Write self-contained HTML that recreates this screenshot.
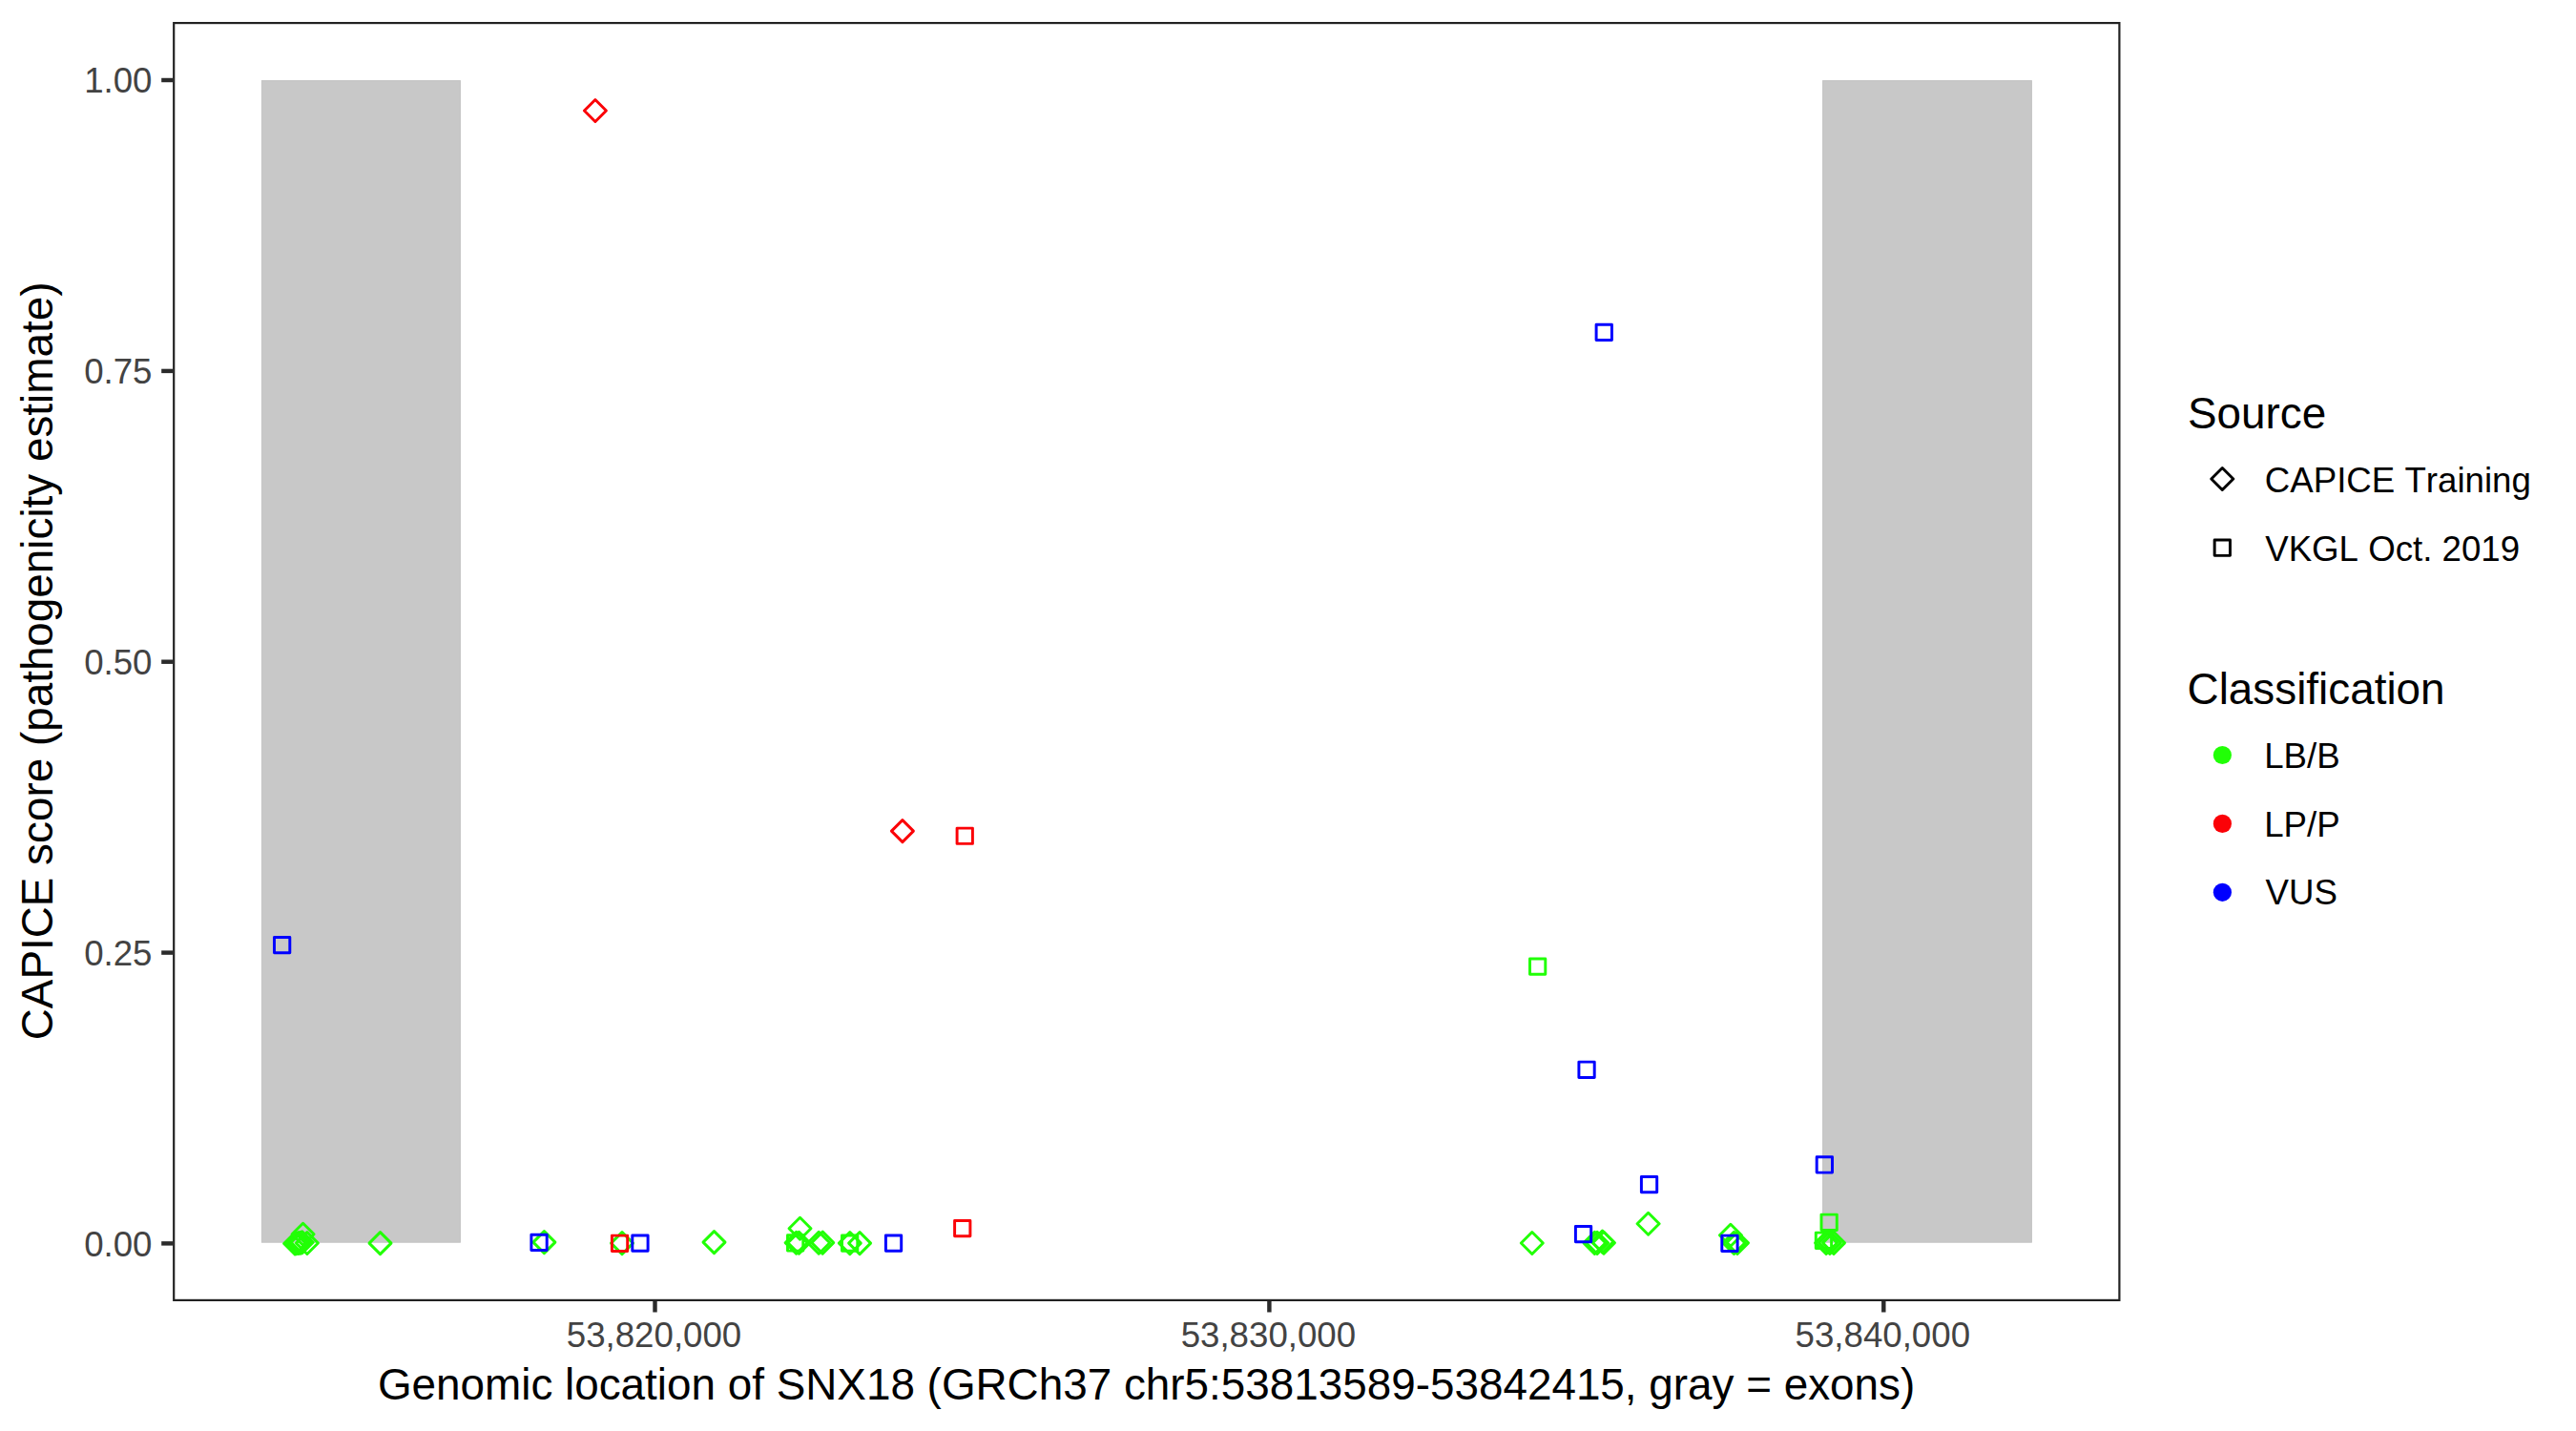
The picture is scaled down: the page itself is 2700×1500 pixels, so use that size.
<!DOCTYPE html>
<html><head><meta charset="utf-8"><title>SNX18 CAPICE scores</title>
<style>
html,body{margin:0;padding:0;background:#fff;}
body{width:2700px;height:1500px;overflow:hidden;}
svg{display:block;font-kerning:none;font-family:"Liberation Sans",Arial,Helvetica,sans-serif;}
.ax{font-size:36.67px;fill:#434343;}
.tt{font-size:45.83px;fill:#000;}
.lg{font-size:36.67px;fill:#000;}
.pt{fill:none;stroke-width:2.95;stroke-linejoin:round;}
.tk{stroke:#2b2b2b;stroke-width:4.44;}
</style></head><body>
<svg width="2700" height="1500" viewBox="0 0 2700 1500">
<rect x="0" y="0" width="2700" height="1500" fill="#fff"/>
<rect x="274.4" y="84.6" width="208.0" height="1217.6" fill="#c8c8c8" stroke="#c4c4c4" stroke-width="1"/>
<rect x="1910.6" y="84.6" width="218.8" height="1217.6" fill="#c8c8c8" stroke="#c4c4c4" stroke-width="1"/>
<g class="pt">
<path d="M297.6 1303.5L309.1 1292.0L320.6 1303.5L309.1 1315.0Z" stroke="#21ff06"/>
<path d="M299.1 1303.3L310.6 1291.8L322.1 1303.3L310.6 1314.8Z" stroke="#21ff06"/>
<path d="M301.4 1303.0L312.9 1291.5L324.4 1303.0L312.9 1314.5Z" stroke="#21ff06"/>
<path d="M303.5 1302.7L315.0 1291.2L326.5 1302.7L315.0 1314.2Z" stroke="#21ff06"/>
<path d="M305.2 1302.3L316.7 1290.8L328.2 1302.3L316.7 1313.8Z" stroke="#21ff06"/>
<path d="M310.4 1303.0L321.9 1291.5L333.4 1303.0L321.9 1314.5Z" stroke="#21ff06"/>
<path d="M306.1 1293.8L317.6 1282.3L329.1 1293.8L317.6 1305.3Z" stroke="#21ff06"/>
<path d="M387.0 1303.1L398.5 1291.6L410.0 1303.1L398.5 1314.6Z" stroke="#21ff06"/>
<path d="M558.9 1302.1L570.4 1290.6L581.9 1302.1L570.4 1313.6Z" stroke="#21ff06"/>
<path d="M640.5 1303.1L652.0 1291.6L663.5 1303.1L652.0 1314.6Z" stroke="#21ff06"/>
<path d="M737.0 1302.1L748.5 1290.6L760.0 1302.1L748.5 1313.6Z" stroke="#21ff06"/>
<path d="M827.0 1287.8L838.5 1276.3L850.0 1287.8L838.5 1299.3Z" stroke="#21ff06"/>
<path d="M823.1 1302.7L834.6 1291.2L846.1 1302.7L834.6 1314.2Z" stroke="#21ff06"/>
<path d="M825.9 1302.7L837.4 1291.2L848.9 1302.7L837.4 1314.2Z" stroke="#21ff06"/>
<path d="M846.7 1302.7L858.2 1291.2L869.7 1302.7L858.2 1314.2Z" stroke="#21ff06"/>
<path d="M850.7 1302.6L862.2 1291.1L873.7 1302.6L862.2 1314.1Z" stroke="#21ff06"/>
<path d="M879.3 1303.1L890.8 1291.6L902.3 1303.1L890.8 1314.6Z" stroke="#21ff06"/>
<path d="M889.6 1303.1L901.1 1291.6L912.6 1303.1L901.1 1314.6Z" stroke="#21ff06"/>
<path d="M612.4 116.0L623.9 104.5L635.4 116.0L623.9 127.5Z" stroke="#fb0207"/>
<path d="M934.4 871.1L945.9 859.6L957.4 871.1L945.9 882.6Z" stroke="#fb0207"/>
<path d="M1594.3 1303.0L1605.8 1291.5L1617.3 1303.0L1605.8 1314.5Z" stroke="#21ff06"/>
<path d="M1659.9 1302.9L1671.4 1291.4L1682.9 1302.9L1671.4 1314.4Z" stroke="#21ff06"/>
<path d="M1662.6 1302.9L1674.1 1291.4L1685.6 1302.9L1674.1 1314.4Z" stroke="#21ff06"/>
<path d="M1668.0 1301.5L1679.5 1290.0L1691.0 1301.5L1679.5 1313.0Z" stroke="#21ff06"/>
<path d="M1669.5 1302.8L1681.0 1291.3L1692.5 1302.8L1681.0 1314.3Z" stroke="#21ff06"/>
<path d="M1716.1 1282.7L1727.6 1271.2L1739.1 1282.7L1727.6 1294.2Z" stroke="#21ff06"/>
<path d="M1802.4 1294.7L1813.9 1283.2L1825.4 1294.7L1813.9 1306.2Z" stroke="#21ff06"/>
<path d="M1806.0 1302.9L1817.5 1291.4L1829.0 1302.9L1817.5 1314.4Z" stroke="#21ff06"/>
<path d="M1809.5 1302.9L1821.0 1291.4L1832.5 1302.9L1821.0 1314.4Z" stroke="#21ff06"/>
<path d="M1902.6 1302.9L1914.1 1291.4L1925.6 1302.9L1914.1 1314.4Z" stroke="#21ff06"/>
<path d="M1906.4 1302.9L1917.9 1291.4L1929.4 1302.9L1917.9 1314.4Z" stroke="#21ff06"/>
<path d="M1910.5 1302.9L1922.0 1291.4L1933.5 1302.9L1922.0 1314.4Z" stroke="#21ff06"/>
<rect x="287.5" y="982.5" width="16.3" height="16.3" stroke="#0000ff"/>
<rect x="556.9" y="1294.2" width="16.3" height="16.3" stroke="#0000ff"/>
<rect x="641.4" y="1295.1" width="16.3" height="16.3" stroke="#fb0207"/>
<rect x="662.8" y="1295.0" width="16.3" height="16.3" stroke="#0000ff"/>
<rect x="825.5" y="1294.8" width="16.3" height="16.3" stroke="#21ff06"/>
<rect x="882.5" y="1294.9" width="16.3" height="16.3" stroke="#21ff06"/>
<rect x="928.4" y="1295.0" width="16.3" height="16.3" stroke="#0000ff"/>
<rect x="1000.6" y="1279.5" width="16.3" height="16.3" stroke="#fb0207"/>
<rect x="1003.1" y="868.1" width="16.3" height="16.3" stroke="#fb0207"/>
<rect x="1603.5" y="1005.0" width="16.3" height="16.3" stroke="#21ff06"/>
<rect x="1651.4" y="1285.5" width="16.3" height="16.3" stroke="#0000ff"/>
<rect x="1654.9" y="1113.1" width="16.3" height="16.3" stroke="#0000ff"/>
<rect x="1673.1" y="340.2" width="16.3" height="16.3" stroke="#0000ff"/>
<rect x="1720.4" y="1233.5" width="16.3" height="16.3" stroke="#0000ff"/>
<rect x="1804.8" y="1295.1" width="16.3" height="16.3" stroke="#0000ff"/>
<rect x="1904.2" y="1212.8" width="16.3" height="16.3" stroke="#0000ff"/>
<rect x="1909.0" y="1273.1" width="16.3" height="16.3" stroke="#21ff06"/>
<rect x="1903.3" y="1292.1" width="16.3" height="16.3" stroke="#21ff06"/>
</g>
<rect x="182.2" y="24.1" width="2039.2" height="1338.8" fill="none" stroke="#222" stroke-width="2.2"/>
<g class="tk"><line x1="686.5" x2="686.5" y1="1364.0" y2="1375.5"/><line x1="1330.4" x2="1330.4" y1="1364.0" y2="1375.5"/><line x1="1974.3" x2="1974.3" y1="1364.0" y2="1375.5"/><line x1="169.2" x2="181.1" y1="1303.4" y2="1303.4"/><line x1="169.2" x2="181.1" y1="998.6" y2="998.6"/><line x1="169.2" x2="181.1" y1="693.7" y2="693.7"/><line x1="169.2" x2="181.1" y1="388.9" y2="388.9"/><line x1="169.2" x2="181.1" y1="84.0" y2="84.0"/></g>
<g class="ax"><text x="685.5" y="1412.3" text-anchor="middle">53,820,000</text><text x="1329.4" y="1412.3" text-anchor="middle">53,830,000</text><text x="1973.3" y="1412.3" text-anchor="middle">53,840,000</text><text x="159.5" y="1316.5" text-anchor="end">0.00</text><text x="159.5" y="1011.7" text-anchor="end">0.25</text><text x="159.5" y="706.8" text-anchor="end">0.50</text><text x="159.5" y="402.0" text-anchor="end">0.75</text><text x="159.5" y="97.1" text-anchor="end">1.00</text></g>
<text class="tt" x="1201.6" y="1467.0" text-anchor="middle">Genomic location of SNX18 (GRCh37 chr5:53813589-53842415, gray = exons)</text>
<text class="tt" transform="translate(54.9,692.9) rotate(-90)" text-anchor="middle">CAPICE score (pathogenicity estimate)</text>
<text class="tt" x="2293.0" y="448.6">Source</text>
<g class="pt" stroke="#000">
<path d="M2317.8 502.0L2329.3 490.5L2340.8 502.0L2329.3 513.5Z"/>
<rect x="2321.15" y="566.0500000000001" width="16.3" height="16.3"/>
</g>
<text class="lg" x="2373.8" y="516.1">CAPICE Training</text>
<text class="lg" x="2374.2" y="588.0">VKGL Oct. 2019</text>
<text class="tt" x="2292.6" y="738.3">Classification</text>
<circle cx="2329.4" cy="791.5" r="9.6" fill="#21ff06"/>
<circle cx="2329.4" cy="863.4" r="9.6" fill="#fb0207"/>
<circle cx="2329.4" cy="935.3" r="9.6" fill="#0000ff"/>
<text class="lg" x="2373.2" y="804.7">LB/B</text>
<text class="lg" x="2373.2" y="877.0">LP/P</text>
<text class="lg" x="2374.6" y="948.3">VUS</text>
</svg>
</body></html>
